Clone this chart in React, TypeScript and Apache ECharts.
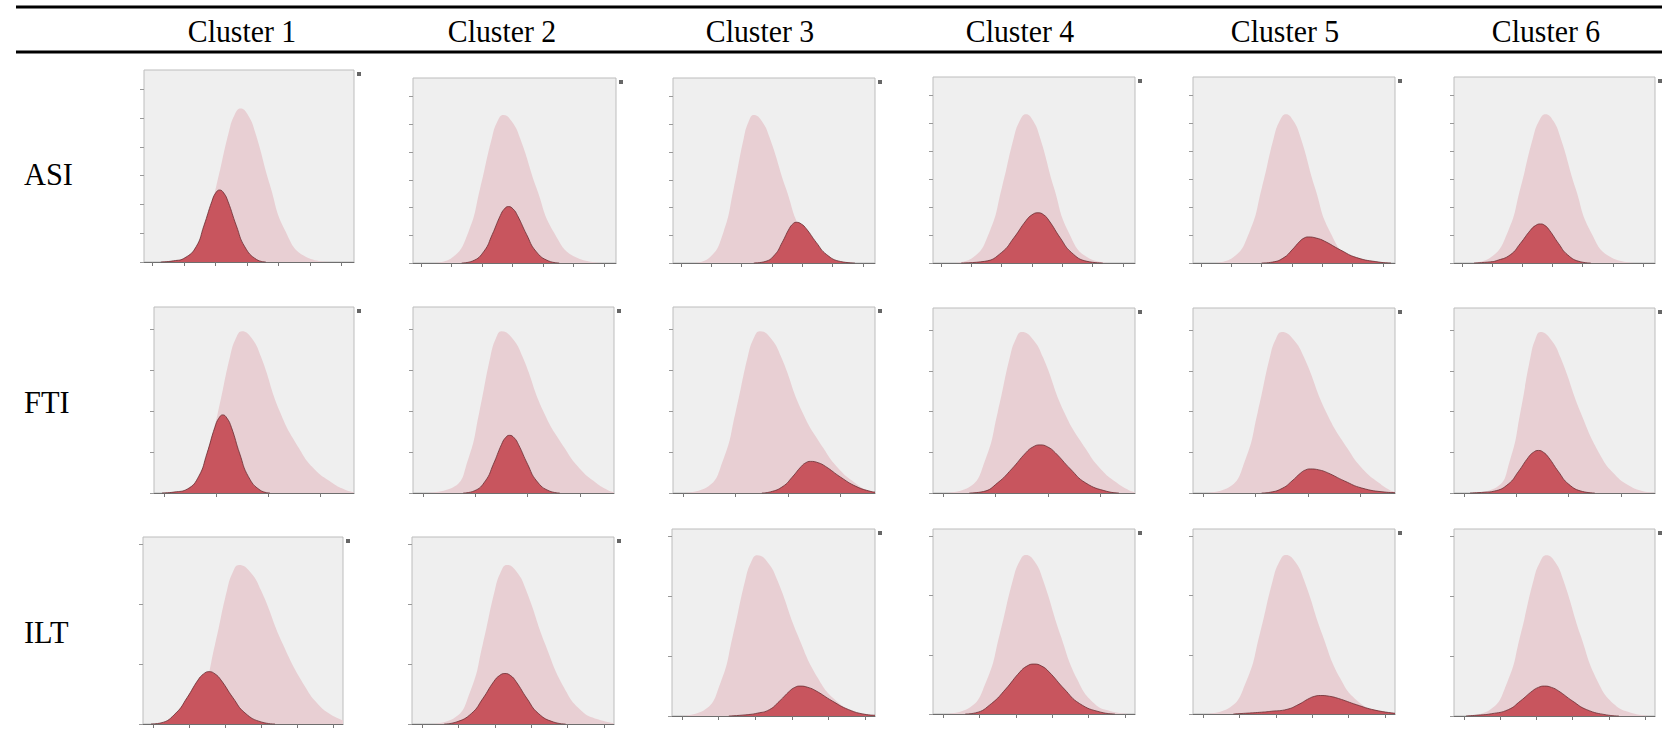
import React, { useEffect, useRef } from "react";
import * as echarts from "echarts";

// ---------- DATA ----------
const clusters = ["Cluster 1", "Cluster 2", "Cluster 3", "Cluster 4", "Cluster 5", "Cluster 6"];
const measures = ["ASI", "FTI", "ILT"];

// overall (light) distributions, [x, density] with x in percent of each panel's range
const asiAll = [
  [[11.5, 0], [20.7, 2.8], [28.8, 16.8], [34.5, 40], [40.3, 67.3], [43.1, 76.6], [46, 80], [49.5, 76.6], [53, 67.3], [60, 40], [67, 16.8], [76.8, 2.8], [88, 0]],
  [[10, 0], [19.2, 2.8], [27.3, 16.8], [33, 40], [38.8, 67.3], [41.6, 76.6], [44.5, 80], [48.6, 76.6], [52.8, 67.3], [61, 40], [69.3, 16.8], [80.8, 2.8], [94, 0]],
  [[10, 0], [18, 2.8], [25, 16.8], [30, 40], [35, 67.3], [37.5, 76.6], [40, 80], [44, 76.6], [48, 67.3], [56, 40], [64, 16.8], [75.2, 2.8], [88, 0]],
  [[10, 0], [19.6, 2.8], [28, 16.8], [34, 40], [40, 67.3], [43, 76.6], [46, 80], [49.5, 76.6], [53, 67.3], [60, 40], [67, 16.8], [76.8, 2.8], [88, 0]],
  [[10, 0], [19.6, 2.8], [28, 16.8], [34, 40], [40, 67.3], [43, 76.6], [46, 80], [49.6, 76.6], [53.3, 67.3], [60.5, 40], [67.8, 16.8], [77.9, 2.8], [89, 0]],
  [[8, 0], [18, 2.8], [26.8, 16.8], [33, 40], [39.3, 67.3], [42.4, 76.6], [45.5, 80], [49.3, 76.6], [53, 67.3], [60.5, 40], [68, 16.8], [78.5, 2.8], [91, 0]],
];
const ftiAll = [
  [[8, 0], [17.6, 3], [26, 18.3], [32, 43.5], [38, 73.2], [41, 83.3], [44, 87], [48.8, 83.3], [53.5, 73.2], [63, 43.5], [72.5, 24], [80, 13], [89, 5.5], [95, 2], [100, 0.3]],
  [[5, 0], [19.8, 3], [27.5, 18.3], [33, 43.5], [38.5, 73.2], [41.3, 83.3], [44, 87], [49.3, 83.3], [54.5, 73.2], [65, 43.5], [75.5, 24], [83, 13], [91, 5.5], [97, 1.5], [100, 0.5]],
  [[4, 0], [16.6, 3], [25, 18.3], [31, 43.5], [37, 73.2], [40, 83.3], [43, 87], [48.3, 83.3], [53.5, 73.2], [64, 43.5], [74.5, 24], [82, 13], [90, 5.5], [96, 1.5], [100, 0.5]],
  [[5, 0], [17.6, 3], [26, 18.3], [32, 43.5], [38, 73.2], [41, 83.3], [44, 87], [49.3, 83.3], [54.5, 73.2], [65, 43.5], [75.5, 24], [83, 13], [91, 5.5], [97, 1.5], [100, 0.5]],
  [[5, 0], [17.6, 3], [26, 18.3], [32, 43.5], [38, 73.2], [41, 83.3], [44, 87], [49.5, 83.3], [55, 73.2], [66, 43.5], [76.5, 24], [84, 13], [92, 5.5], [97.5, 1.5], [100, 0.6]],
  [[8, 0], [21, 3], [28, 18.3], [33, 43.5], [38, 73.2], [40.5, 83.3], [43, 87], [48, 83.3], [53, 73.2], [63, 43.5], [73, 20], [80, 10], [87, 4], [94, 1], [100, 0.2]],
];
const iltAll = [
  [[12, 0], [21.6, 3], [30, 17.9], [36, 42.5], [42, 71.5], [45, 81.4], [48, 85], [53.5, 81.4], [59, 71.5], [70, 42.5], [81, 20], [88, 10], [94, 5], [100, 2]],
  [[8, 0], [20.6, 3], [29, 17.9], [35, 42.5], [41, 71.5], [44, 81.4], [47, 85], [51.8, 81.4], [56.5, 71.5], [66, 42.5], [75.5, 19], [84, 7], [92, 2.5], [100, 0.4]],
  [[3, 0], [15.6, 3], [24, 18], [30, 43], [36, 72.3], [39, 82.4], [42, 86], [47, 82.4], [52, 72.3], [62, 43], [72, 20], [81, 8], [90, 2.5], [100, 0.3]],
  [[5, 0], [17.4, 3], [26.5, 18], [33, 43], [39.5, 72.3], [42.8, 82.4], [46, 86], [50.3, 82.4], [54.5, 72.3], [63, 43], [71.5, 18.5], [80, 5.5], [88, 1.5], [96, 0.2]],
  [[5, 0], [17.4, 3], [26.5, 18], [33, 43], [39.5, 72.3], [42.8, 82.4], [46, 86], [50.5, 82.4], [55, 72.3], [64, 43], [73, 19], [82, 6.5], [91, 2], [100, 0.3]],
  [[5, 0], [17.4, 3], [26.5, 18], [33, 43], [39.5, 72.3], [42.8, 82.4], [46, 86], [50.3, 82.4], [54.5, 72.3], [63, 43], [71.5, 18.5], [80, 6], [88, 1.8], [96, 0.3]],
];

// cluster (dark) distributions, [x, density]
const asiCluster = [
  [[8, 0], [14, 0.6], [19.5, 2.2], [24.8, 7.9], [28.5, 18.8], [32.3, 31.5], [34.1, 35.9], [36, 37.5], [38, 35.9], [40, 31.5], [44, 18.8], [48, 7.9], [53.6, 1.3], [58, 0]],
  [[24, 0], [29.4, 1.1], [35, 6.4], [39, 15.3], [43, 25.6], [45, 29.2], [47, 30.5], [49.3, 29.2], [51.5, 25.6], [56, 15.3], [60.5, 6.4], [66.8, 1.1], [72, 0]],
  [[40, 0], [45.6, 0.8], [50.5, 4.6], [54, 11], [57.5, 18.5], [59.3, 21.1], [61, 22], [63.5, 21.1], [66, 18.5], [71, 11], [76, 4.6], [83, 0.8], [90, 0]],
  [[14, 0], [25.6, 0.9], [34, 5.7], [40, 13.5], [46, 22.7], [49, 25.9], [52, 27], [54.8, 25.9], [57.5, 22.7], [63, 13.5], [68.5, 5.7], [76.2, 0.9], [84, 0]],
  [[34, 0], [39.4, 0.5], [45, 2.9], [49, 7], [53, 11.8], [55, 13.4], [57, 14], [61, 13.4], [65, 11.8], [73, 7], [81, 2.9], [92, 0.5], [98, 0]],
  [[10, 0], [18, 0.6], [21, 1.2], [28, 4.4], [33, 10.5], [38, 17.6], [40.5, 20.1], [43, 21], [45.3, 20.1], [47.5, 17.6], [52, 10.5], [56.5, 4.4], [62.8, 0.7], [68, 0]],
];
const ftiCluster = [
  [[4, 0], [10, 0.5], [16.8, 2.2], [22.4, 9], [26.4, 21], [30.4, 35.3], [32.4, 40.2], [34.4, 42], [36.5, 40.2], [38.7, 35.3], [42.9, 21], [47.2, 8.8], [53.1, 1.5], [58, 0]],
  [[25, 0], [30.4, 1.1], [36, 6.5], [40, 15.5], [44, 26], [46, 29.7], [48, 31], [50.3, 29.7], [52.5, 26], [57, 15.5], [61.5, 6.5], [67.8, 1.1], [73, 0]],
  [[44, 0], [48.2, 0.6], [54.5, 3.6], [59, 8.5], [63.5, 14.3], [65.8, 16.3], [68, 17], [71.8, 16.3], [75.5, 14.3], [83, 8.5], [90.5, 3.6], [98, 0.8], [100, 0.5]],
  [[18, 0], [25, 0.8], [32, 5.5], [39, 13], [46, 21.8], [49.5, 24.9], [53, 26], [56.8, 24.9], [60.5, 21.8], [68, 13], [75.5, 5.5], [86, 0.9], [92, 0]],
  [[34, 0], [38.2, 0.4], [44.5, 2.7], [49, 6.5], [53.5, 11], [55.8, 12.5], [58, 13], [62.3, 12.5], [66.5, 11], [75, 6.5], [83.5, 2.7], [95, 0.5], [100, 0.2]],
  [[8, 0], [15, 0.4], [20, 1], [27, 4.8], [32, 11.5], [37, 19.3], [39.5, 22], [42, 23], [44.5, 22], [47, 19.3], [52, 11.5], [57, 4.8], [64, 0.8], [70, 0]],
];
const iltCluster = [
  [[4, 0], [9, 0.6], [16.5, 5.9], [22, 14], [27.5, 23.5], [30.3, 26.8], [33, 28], [36, 26.8], [39, 23.5], [45, 14], [51, 5.9], [59.4, 1], [66, 0]],
  [[16, 0], [21.8, 1], [29.5, 5.7], [35, 13.5], [40.5, 22.7], [43.3, 25.9], [46, 27], [48.8, 25.9], [51.5, 22.7], [57, 13.5], [62.5, 5.7], [70.2, 1], [76, 0]],
  [[28, 0], [36, 0.6], [42, 1.5], [48, 3.4], [53, 8], [58, 13.4], [60.5, 15.3], [63, 16], [67, 15.3], [71, 13.4], [79, 8], [87, 3.4], [95, 0.9], [100, 0.4]],
  [[16, 0], [21, 0.6], [29, 5.7], [36, 13.5], [43, 22.7], [46.5, 25.9], [50, 27], [53.8, 25.9], [57.5, 22.7], [65, 13.5], [72.5, 5.7], [83, 1], [90, 0]],
  [[20, 0], [26, 0.4], [33, 0.9], [39, 1.5], [46.5, 2.5], [52, 5], [57.5, 8.4], [60.3, 9.6], [63, 10], [67.5, 9.6], [72, 8.4], [81, 5], [90, 2.1], [100, 0.4]],
  [[6, 0], [11, 0.4], [18.6, 1.2], [27, 3.4], [33, 8], [39, 13.4], [42, 15.3], [45, 16], [48.5, 15.3], [52, 13.4], [59, 8], [66, 3.4], [75.8, 0.6], [82, 0]],
];

// tick positions per row (same units as the data)
const xTicksRow = [
  [4, 19, 34, 49, 64, 79, 94],
  [5, 31, 57, 83],
  [5, 23, 41, 59, 77, 95],
];
const yTicksRow = [
  [0, 15, 30, 45, 60, 75, 90],
  [0, 22, 44, 66, 88],
  [0, 32, 64, 96],
];

// ---------- LAYOUT ----------
const panelBoxes = [
  [[144, 70, 210, 192], [413, 78, 203, 185], [673, 78, 202, 185], [933, 77, 202, 186], [1193, 77, 202, 186], [1454, 77, 201, 186]],
  [[154, 307, 200, 186], [413, 307, 201, 186], [673, 307, 202, 186], [933, 308, 202, 185], [1193, 308, 202, 185], [1454, 308, 201, 185]],
  [[143, 537, 200, 187], [412, 537, 202, 187], [672, 529, 203, 187], [933, 529, 202, 185], [1193, 529, 202, 185], [1454, 529, 201, 187]],
];
const headerCenters = [242, 502, 760, 1020, 1285, 1546];
const rowLabelY = [174, 402, 632];

const LIGHT = "#e8cfd3";
const DARK = "#c8555e";
const PANEL_BG = "#efefef";
const SERIF = '"Liberation Serif", "Times New Roman", serif';

export default function App() {
  const ref = useRef<HTMLDivElement>(null);

  useEffect(() => {
    if (!ref.current) return;
    const chart = echarts.init(ref.current, undefined, { renderer: "svg" });

    const allRows = [asiAll, ftiAll, iltAll];
    const clusterRows = [asiCluster, ftiCluster, iltCluster];

    const grids: any[] = [];
    const xAxes: any[] = [];
    const yAxes: any[] = [];
    const series: any[] = [];
    const graphics: any[] = [];

    allRows.forEach((rowAll, r) => {
      rowAll.forEach((pts, c) => {
        const idx = r * 6 + c;
        const [l, t, w, h] = panelBoxes[r][c];
        grids.push({
          left: l,
          top: t,
          width: w,
          height: h,
          show: true,
          backgroundColor: PANEL_BG,
          borderColor: "#bdbdbd",
          borderWidth: 1,
        });
        xAxes.push({
          gridIndex: idx,
          type: "value",
          min: 0,
          max: 100,
          axisLine: { show: true, onZero: false, lineStyle: { color: "#6e6e6e", width: 1 } },
          axisTick: { show: true, length: 4, customValues: xTicksRow[r], lineStyle: { color: "#777" } },
          axisLabel: { show: false },
          splitLine: { show: false },
        });
        yAxes.push({
          gridIndex: idx,
          type: "value",
          min: 0,
          max: 100,
          axisLine: { show: false },
          axisTick: { show: true, length: 4, customValues: yTicksRow[r], lineStyle: { color: "#999" } },
          axisLabel: { show: false },
          splitLine: { show: false },
        });
        series.push({
          type: "line",
          xAxisIndex: idx,
          yAxisIndex: idx,
          data: pts,
          smooth: 0.5,
          symbol: "none",
          showSymbol: false,
          silent: true,
          lineStyle: { width: 0, color: LIGHT },
          areaStyle: { color: LIGHT, opacity: 1 },
          z: 2,
        });
        series.push({
          type: "line",
          xAxisIndex: idx,
          yAxisIndex: idx,
          data: clusterRows[r][c],
          smooth: 0.5,
          symbol: "none",
          showSymbol: false,
          silent: true,
          lineStyle: { width: 0.8, color: "#6a2d32" },
          areaStyle: { color: DARK, opacity: 1 },
          z: 3,
        });
        // small legend marker at top right of each panel
        graphics.push({
          type: "rect",
          shape: { x: l + w + 3, y: t + 2, width: 4, height: 4 },
          style: { fill: "#666" },
          silent: true,
        });
      });
    });

    // header rules
    graphics.push({ type: "rect", shape: { x: 16, y: 5.5, width: 1646, height: 3 }, style: { fill: "#000" }, silent: true });
    graphics.push({ type: "rect", shape: { x: 16, y: 50.5, width: 1646, height: 3 }, style: { fill: "#000" }, silent: true });

    clusters.forEach((name, i) => {
      graphics.push({
        type: "text",
        x: headerCenters[i],
        y: 31,
        scaleX: 0.93,
        style: {
          text: name,
          fontFamily: SERIF,
          fontSize: 32,
          fill: "#000",
          align: "center",
          verticalAlign: "middle",
        },
        silent: true,
      });
    });
    measures.forEach((name, i) => {
      graphics.push({
        type: "text",
        x: 24,
        y: rowLabelY[i],
        scaleX: 0.95,
        style: {
          text: name,
          fontFamily: SERIF,
          fontSize: 32,
          fill: "#000",
          align: "left",
          verticalAlign: "middle",
        },
        silent: true,
      });
    });

    chart.setOption({
      animation: false,
      backgroundColor: "#ffffff",
      grid: grids,
      xAxis: xAxes,
      yAxis: yAxes,
      series,
      graphic: graphics,
    });

    return () => chart.dispose();
  }, []);

  return (
    <div
      ref={ref}
      style={{ position: "fixed", left: 0, top: 0, width: 1662, height: 731, background: "#fff" }}
    />
  );
}
